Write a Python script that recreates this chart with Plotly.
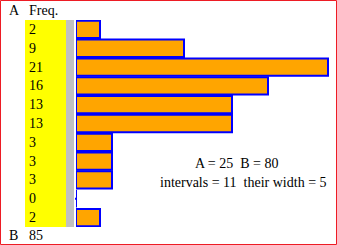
import plotly.graph_objects as go

freq = [2, 9, 21, 16, 13, 13, 3, 3, 3, 0, 2]
A_val = 25
B_val = 80
n_intervals = 11
int_width = 5
bottom_label = "B"
bottom_value = 85
top_label = "A"
freq_header = "Freq."

W, H = 337, 245
FONT = "Liberation Serif, Times New Roman, serif"

def px(x):
    return x / W

def py(y):
    return 1 - y / H

rows = list(range(len(freq)))

fig = go.Figure()
fig.add_trace(go.Bar(
    x=freq, y=rows, orientation="h",
    marker=dict(color="#FFA500", line=dict(color="#0000FF", width=2)),
    hoverinfo="skip",
))
zero_rows = [r for r, f in zip(rows, freq) if f == 0]
fig.add_trace(go.Scatter(
    x=[0] * len(zero_rows), y=zero_rows, mode="markers",
    marker=dict(symbol="square", size=2, color="#0000FF", line=dict(width=0)),
    hoverinfo="skip", cliponaxis=False,
))

shapes = [
    dict(type="rect", xref="paper", yref="paper", x0=px(25), x1=px(66), y0=py(227), y1=py(20),
         fillcolor="#FFFF00", line=dict(width=0), layer="below"),
    dict(type="rect", xref="paper", yref="paper", x0=px(66), x1=px(74), y0=py(227), y1=py(20),
         fillcolor="#C0C0C0", line=dict(width=0), layer="below"),
    dict(type="rect", xref="paper", yref="paper", x0=px(0.5), x1=px(336.5), y0=py(244.5), y1=py(0.5),
         fillcolor="rgba(0,0,0,0)", line=dict(width=1, color="#ED1C24")),
]

ann = []
for r, f in zip(rows, freq):
    ann.append(dict(x=px(27), xref="paper", y=r, yref="y", text=str(f), showarrow=False,
                    xanchor="left", yanchor="middle", font=dict(size=14, color="black", family=FONT)))
ann.append(dict(x=px(7), xref="paper", y=py(11), yref="paper", text=top_label, showarrow=False,
                xanchor="left", yanchor="middle", font=dict(size=14, color="black", family=FONT)))
ann.append(dict(x=px(27), xref="paper", y=py(11), yref="paper", text=freq_header, showarrow=False,
                xanchor="left", yanchor="middle", font=dict(size=14, color="black", family=FONT)))
ann.append(dict(x=px(7), xref="paper", y=py(235), yref="paper", text=bottom_label, showarrow=False,
                xanchor="left", yanchor="middle", font=dict(size=14, color="black", family=FONT)))
ann.append(dict(x=px(27), xref="paper", y=py(235), yref="paper", text=str(bottom_value), showarrow=False,
                xanchor="left", yanchor="middle", font=dict(size=14, color="black", family=FONT)))
ann.append(dict(x=px(193), xref="paper", y=py(163), yref="paper",
                text=f"A = {A_val}\u00a0\u00a0B = {B_val}", showarrow=False,
                xanchor="left", yanchor="middle", font=dict(size=14, color="black", family=FONT)))
ann.append(dict(x=px(158), xref="paper", y=py(182), yref="paper",
                text=f"intervals = {n_intervals}\u00a0\u00a0their width = {int_width}", showarrow=False,
                xanchor="left", yanchor="middle", font=dict(size=14, color="black", family=FONT)))

x0_px = 76
fig.update_layout(
    width=W, height=H, margin=dict(l=0, r=0, t=0, b=0),
    paper_bgcolor="white", plot_bgcolor="rgba(0,0,0,0)",
    showlegend=False, bargap=0.08,
    xaxis=dict(domain=[px(x0_px), 1], range=[0, (W - x0_px) / 12.0], visible=False, fixedrange=True),
    yaxis=dict(domain=[py(227), py(20)], range=[len(freq) - 0.5, -0.5], visible=False, fixedrange=True),
    shapes=shapes, annotations=ann,
)
fig.write_html("out.html", config={"displayModeBar": False, "staticPlot": True})
